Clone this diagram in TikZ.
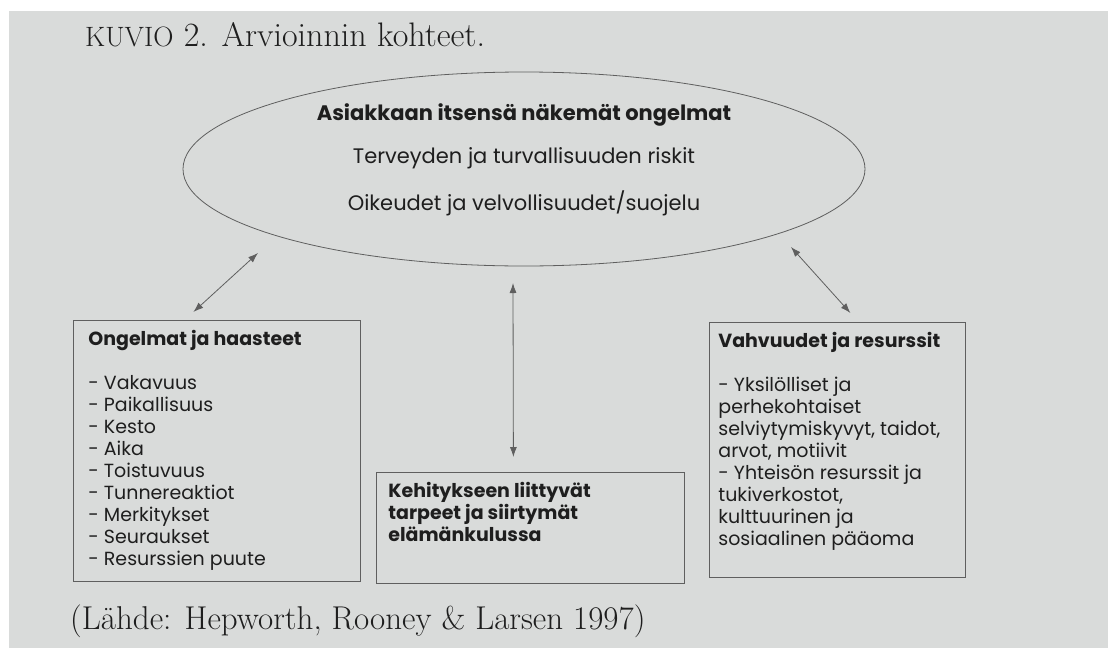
\documentclass[tikz,border=0pt]{standalone}
\usepackage{fontspec}
\usetikzlibrary{shapes.geometric,arrows.meta,calc}
\newfontfamily\gothfont{Poppins}
\definecolor{paper}{RGB}{217,219,218}
\definecolor{ink}{RGB}{30,30,30}
\definecolor{rule}{RGB}{95,95,95}
\tikzset{
  box/.style={draw=rule, line width=0.8pt, anchor=north west, inner ysep=10pt, text=ink,
    font=\gothfont\fontsize{19}{22}\selectfont},
  oval/.style={ellipse, draw=rule, line width=0.8pt, minimum width=682pt, minimum height=194pt},
  biarrow/.style={{Latex[length=10pt,width=7pt]}-{Latex[length=10pt,width=7pt]}, draw=rule, line width=0.8pt}
}

\begin{document}
\begin{tikzpicture}[x=1pt, y=-1pt]
  % Tausta
  \useasboundingbox (0,0) rectangle (1108,648);
  \fill[paper] (0,0) rectangle (1108,648);
  \fill[white] (0,0) rectangle (1108,11);
  \fill[white] (0,0) rectangle (9,648);
  % Otsikko
  \node[anchor=base west, text=ink, font=\fontsize{34}{36}\selectfont, inner sep=0] (otsikko) at (85,46)
    {{\fontsize{28}{36}\selectfont KUVIO} 2. Arvioinnin kohteet.};
  % Ellipsi
  \node[oval] (ell) at (524,169) {};
  \node[align=center, text=ink, font=\gothfont\fontsize{21}{22}\selectfont] (asiakas) at ([yshift=9pt]ell.center)
    {\textbf{Asiakkaan itsensä näkemät ongelmat}\\[21pt] Terveyden ja turvallisuuden riskit\\[21pt] Oikeudet ja velvollisuudet/suojelu};
  % Laatikot
  \node[box, inner xsep=15pt] (ongelmat) at (73,320) {\parbox[t][241pt][t]{257pt}{\raggedright
    \textbf{Ongelmat ja haasteet}\\[22pt]
    - Vakavuus\\ - Paikallisuus\\ - Kesto\\ - Aika\\ - Toistuvuus\\ - Tunnereaktiot\\
    - Merkitykset\\ - Seuraukset\\ - Resurssien puute}};
  \node[box, inner xsep=12pt] (kehitys) at (376,472) {\parbox[t][91pt][t]{284pt}{\raggedright
    \textbf{Kehitykseen liittyvät\\ tarpeet ja siirtymät\\ elämänkulussa}}};
  \node[box, inner xsep=9pt] (vahvuudet) at (709,322) {\parbox[t][235pt][t]{238pt}{\raggedright
    \textbf{Vahvuudet ja resurssit}\\[22pt]
    - Yksilölliset ja\\ perhekohtaiset\\ selviytymiskyvyt, taidot,\\ arvot, motiivit\\
    - Yhteisön resurssit ja\\ tukiverkostot,\\ kulttuurinen ja\\ sosiaalinen pääoma}};
  % Nuolet
  \draw[biarrow] ($(ongelmat.north)+(-23.5,-8)$) -- ($(ell.center)+(-266,84)$);
  \draw[biarrow] ($(ell.center)+(-11,114)$) -- ($(kehitys.north)+(-17,-15)$);
  \draw[biarrow] ($(ell.center)+(267,78)$) -- ($(vahvuudet.north)+(13,-9)$);
  % Lähde
  \node[anchor=base west, text=ink, font=\fontsize{33}{36}\selectfont, inner sep=0] (lahde) at (70,629)
    {(Lähde: Hepworth, Rooney \& Larsen 1997)};
\end{tikzpicture}
\end{document}
